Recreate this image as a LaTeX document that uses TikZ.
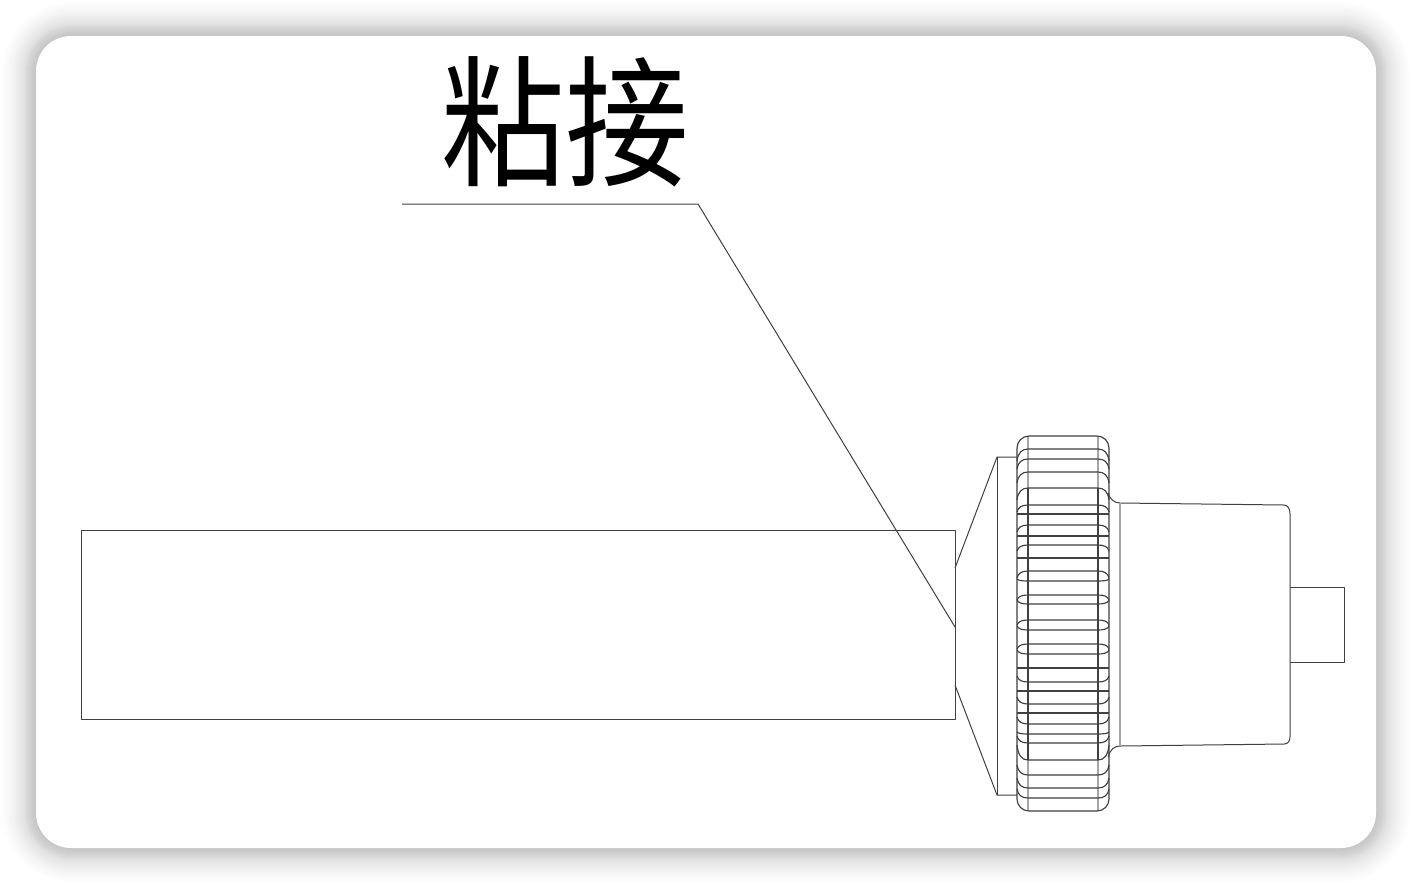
\documentclass[tikz,border=0pt]{standalone}
\usepackage{fontspec}
\newfontfamily\cjk{Noto Sans CJK SC}
\tikzset{
    part/.style={draw=black!75, line width=1pt, line join=round},
    hidden/.style={draw=black!35, line width=1.2pt},
    ridge/.style={draw=black!75, line width=1.15pt},
}
\newcommand{\ridgeline}[2]{
    \draw[ridge] (1017,#1+#2) .. controls (1018,#1+0.3*#2) and (1022,#1) .. (1028,#1) -- (1098,#1) .. controls (1104,#1) and (1108,#1+0.3*#2) .. (1109,#1+#2);
}
\begin{document}
\begin{tikzpicture}[x=1pt, y=-1pt]
    \useasboundingbox (0,0) rectangle (1412,884);
    \foreach \s in {1,2,...,12,14,16,...,24,27,30,33} {
        \fill[black, opacity=0.0125, rounded corners={35pt+\s*1pt}] (36-\s,36-\s) rectangle (1376+\s,848+\s);
    }
    \fill[white, rounded corners=35pt] (36,36) rectangle (1376,848);

    \node[font=\cjk, xscale=1.03, yscale=1.18, inner sep=0pt] (title) at (565,122) {\fontsize{120pt}{120pt}\selectfont 粘接};

    \draw[part] (81,530) rectangle (955,719);
    \draw[part] (402,204) -- (698,204) -- (955,627);

    % cone in front of the knob
    \draw[part] (955,568) -- (997,457) -- (1017,457);
    \draw[part] (955,685) -- (997,795) -- (1017,795);
    \draw[part] (997,457) -- (997,795);

    % knob
    \draw[hidden] (1028,436) -- (1028,488) (1098,436) -- (1098,488);
    \draw[hidden] (1028,760) -- (1028,811) (1098,760) -- (1098,811);
    \draw[ridge] (1028,488) -- (1028,760) (1098,488) -- (1098,760);
    \draw[ridge, rounded corners=12pt] (1017,624) -- (1017,436) -- (1109,436) -- (1109,811) -- (1017,811) -- cycle;
    \foreach \yy/\dy in {449/12,459/10,472/11,488/12,505/7,514/0,525/7,536/0,545/6,558/0,571/7,581/-2,595/5,604/-4,620/5,630/-4,644/5,654/-4,668/0,682/-6,691/0,704/-7,713/0,724/-7,734/-2,743/-7,760/-15,775/-10,788/-10,798/-9} {
        \ridgeline{\yy}{\dy}
    }

    % body and pin
    \draw[part] (1108,493) .. controls (1110,499) and (1114,503) .. (1120,503) -- (1284,505) .. controls (1288,505) and (1290,509) .. (1290,514) -- (1290,737) .. controls (1290,741) and (1288,744) .. (1284,744) -- (1120,746) .. controls (1114,746) and (1110,750) .. (1108,757);
    \draw[hidden] (1120,503) -- (1120,746);
    \draw[part] (1290,587) -- (1344,587) -- (1344,662) -- (1290,662);
\end{tikzpicture}
\end{document}
